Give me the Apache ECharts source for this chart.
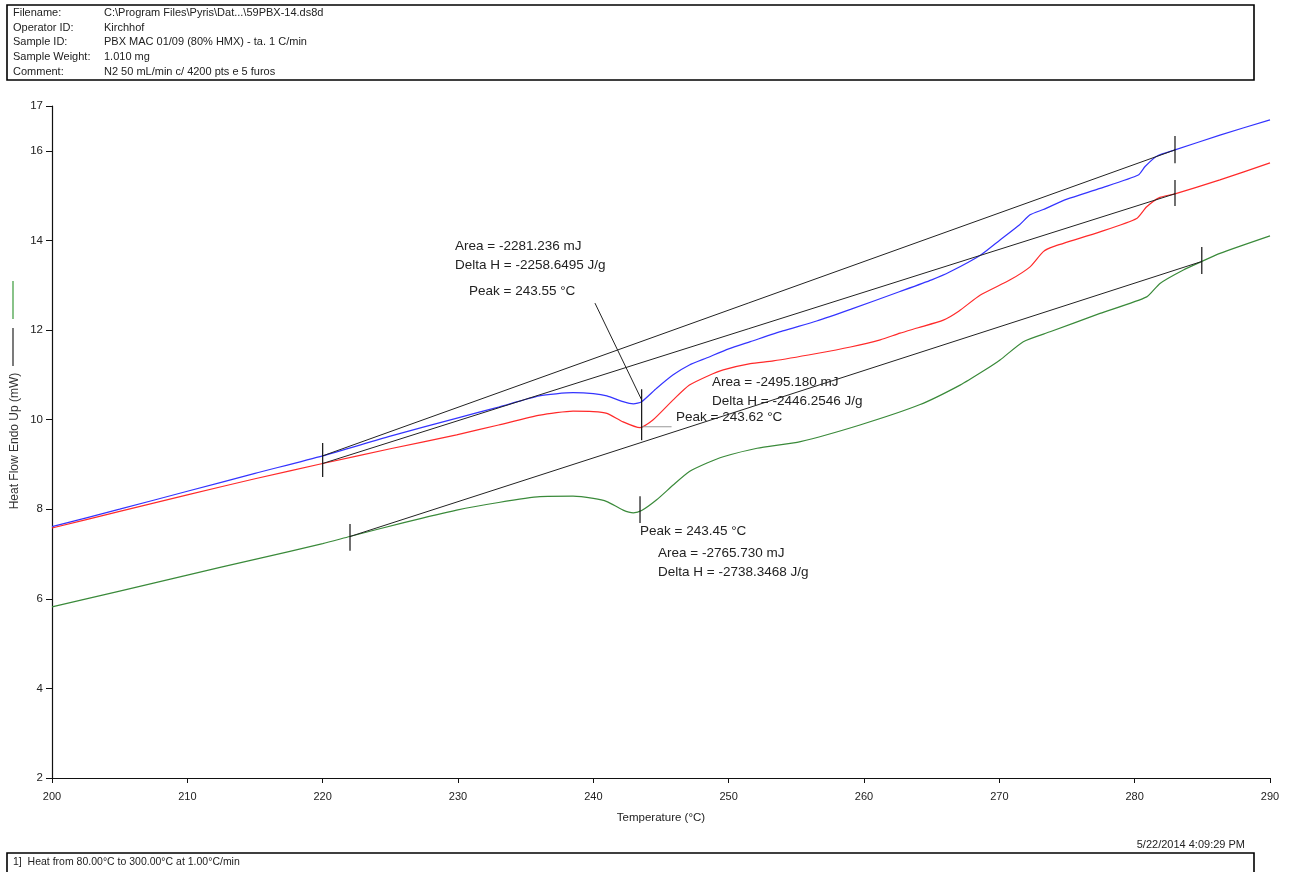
<!DOCTYPE html>
<html>
<head>
<meta charset="utf-8">
<script src="https://cdn.jsdelivr.net/npm/echarts@6/dist/echarts.min.js"></script>
<style>
html,body{margin:0;padding:0;background:#fff;}
#c{width:1293px;height:872px;}
</style>
</head>
<body>
<div id="c"></div>
<script>
// ---- data (Temperature °C, Heat Flow mW) ----
const blueT = [200,205,210,215,220,225,230,233,236,238.5,240,241,242.2,242.96,243.57,244.68,245.9,247.1,248.4,250,251.6,254,256.5,259,262.66,265,266.36,268.6,270.05,271.5,272.27,273.25,275,277.44,280.27,280.77,281.63,282.98,286.3,290];
const blueV = [7.61,8.00,8.40,8.80,9.19,9.63,10.04,10.28,10.53,10.60,10.58,10.53,10.40,10.35,10.40,10.70,11.00,11.22,11.38,11.58,11.74,11.98,12.20,12.46,12.86,13.12,13.30,13.67,14.01,14.35,14.57,14.69,14.92,15.16,15.46,15.65,15.88,16.02,16.35,16.69];

const redT = [200,205,210,215,220,225,229.9,233,236.06,238.5,240,241,242.2,243.45,244.4,245.9,247.1,248.5,249.6,251.6,253.3,256.4,259,261.2,262.66,264,265.86,267,268.6,270.8,272.27,273.25,273.99,277.44,280.15,280.89,281.87,282.98,286.3,290];
const redV = [7.58,7.95,8.32,8.68,9.02,9.35,9.66,9.88,10.10,10.19,10.18,10.14,9.95,9.82,9.99,10.44,10.77,10.98,11.11,11.25,11.31,11.47,11.62,11.78,11.93,12.05,12.22,12.42,12.78,13.12,13.41,13.75,13.86,14.19,14.49,14.75,14.96,15.04,15.35,15.73];

const greenT = [200,205,210,215,220,222,226,229.9,233,236.06,238.5,240,241,242.2,242.96,243.57,244.68,245.9,247.1,248.4,249.6,252.1,255.3,259.7,264.1,267.1,268.9,270.05,271.77,273.75,277.44,280.89,281.87,283.6,284.96,286.3,290];
const greenV = [5.82,6.17,6.53,6.88,7.23,7.39,7.70,7.98,8.15,8.28,8.29,8.24,8.17,7.98,7.92,7.97,8.21,8.54,8.84,9.03,9.17,9.36,9.51,9.88,10.33,10.77,11.10,11.33,11.74,11.96,12.37,12.74,13.04,13.34,13.53,13.71,14.10];

// baselines (integration limits)
const blueBase = [[220, 9.19], [282.98, 16.02]];
const redBase = [[220, 9.02], [282.98, 15.04]];
const greenBase = [[222.02, 7.39], [284.96, 13.53]];

// vertical limit / peak markers [T, vLow, vHigh]
const markers = [
  [220, 8.72, 9.48],
  [282.98, 15.72, 16.33],
  [282.98, 14.77, 15.35],
  [222.02, 7.07, 7.67],
  [284.96, 13.25, 13.85],
  [243.57, 9.54, 10.68],
  [243.45, 7.69, 8.29]
];
// peak pointer lines
const bluePointer = [[240.12, 12.60], [243.57, 10.44]];
const redPointer = [[243.57, 9.84], [245.78, 9.84]];

// axis ticks
const xTicks = [200,210,220,230,240,250,260,270,280,290];
const yTicks = [2,4,6,8,10,12,14,16,17];

// annotation texts
const annBlue = ['Area = -2281.236 mJ', 'Delta H = -2258.6495 J/g', 'Peak = 243.55 °C'];
const annRed = ['Area = -2495.180 mJ', 'Delta H = -2446.2546 J/g', 'Peak = 243.62 °C'];
const annGreen = ['Peak = 243.45 °C', 'Area = -2765.730 mJ', 'Delta H = -2738.3468 J/g'];

const headerLabels = ['Filename:', 'Operator ID:', 'Sample ID:', 'Sample Weight:', 'Comment:'];
const headerValues = ['C:\\Program Files\\Pyris\\Dat...\\59PBX-14.ds8d', 'Kirchhof', 'PBX MAC 01/09 (80% HMX) - ta. 1 C/min', '1.010 mg', 'N2 50 mL/min c/ 4200 pts e 5 furos'];
const footerText = '1]  Heat from 80.00°C to 300.00°C at 1.00°C/min';
const dateText = '5/22/2014 4:09:29 PM';

// ---- build ----
const zip = (a, b) => a.map((t, i) => [t, b[i]]);
const FONT = "'Liberation Sans', Arial, sans-serif";

const curve = (name, T, V, color) => ({
  name, type: 'line', data: zip(T, V), showSymbol: false, symbol: 'none',
  smooth: 0.2,
  lineStyle: { color, width: 1.2 }, silent: true, z: 3
});
const seg = (data, color, w) => ({
  type: 'line', data, showSymbol: false, symbol: 'none',
  lineStyle: { color, width: w || 1 }, silent: true, z: 4
});

const series = [
  curve('blue', blueT, blueV, '#3434ff'),
  curve('red', redT, redV, '#ff2a2a'),
  curve('green', greenT, greenV, '#3a8a3a'),
  seg(blueBase, '#222'),
  seg(redBase, '#222'),
  seg(greenBase, '#222'),
  seg(bluePointer, '#222'),
  seg(redPointer, '#999', 1.2)
];
markers.forEach(m => series.push(seg([[m[0], m[1]], [m[0], m[2]]], '#111', 1.2)));

const txt = (x, y, s, size, extra) => Object.assign({
  type: 'text', x, y,
  style: { text: s, font: (size || 13.5) + 'px ' + FONT, fill: '#222', textVerticalAlign: 'middle' },
  z: 10
}, extra || {});

const graphics = [];
// header box
graphics.push({ type: 'rect', shape: { x: 7, y: 5, width: 1247, height: 75 }, style: { fill: 'none', stroke: '#000', lineWidth: 1.6 } });
headerLabels.forEach((l, i) => {
  graphics.push(txt(13, 13 + i * 14.7, l, 11, null));
  graphics.push(txt(104, 13 + i * 14.7, headerValues[i], 11, null));
});
// footer
graphics.push({ type: 'rect', shape: { x: 7, y: 853, width: 1247, height: 40 }, style: { fill: 'none', stroke: '#000', lineWidth: 1.6 } });
graphics.push(txt(13, 862, footerText, 10.5, null));
graphics.push({ type: 'text', x: 1245, y: 845, style: { text: dateText, font: '11px ' + FONT, fill: '#222', textAlign: 'right', textVerticalAlign: 'middle' } });
// y-axis name + legend markers
graphics.push({ type: 'text', x: 15, y: 441, rotation: Math.PI / 2,
  style: { text: 'Heat Flow Endo Up (mW)', font: '12px ' + FONT, fill: '#333', textAlign: 'center', textVerticalAlign: 'middle' } });
graphics.push({ type: 'line', shape: { x1: 13, y1: 281, x2: 13, y2: 319 }, style: { stroke: '#3a9a3a', lineWidth: 1.2 } });
graphics.push({ type: 'line', shape: { x1: 13, y1: 328, x2: 13, y2: 366 }, style: { stroke: '#222', lineWidth: 1.2 } });
// annotations
graphics.push(txt(455, 246, annBlue[0]));
graphics.push(txt(455, 265, annBlue[1]));
graphics.push(txt(469, 291, annBlue[2]));
graphics.push(txt(712, 382, annRed[0]));
graphics.push(txt(712, 401, annRed[1]));
graphics.push(txt(676, 417, annRed[2]));
graphics.push(txt(640, 531, annGreen[0]));
graphics.push(txt(658, 553, annGreen[1]));
graphics.push(txt(658, 572, annGreen[2]));

const chart = echarts.init(document.getElementById('c'), null, { renderer: 'canvas' });
chart.setOption({
  animation: false,
  backgroundColor: '#fff',
  grid: { left: 52, right: 23, top: 106, bottom: 94, containLabel: false },
  xAxis: {
    type: 'value', min: 200, max: 290, interval: 10,
    name: 'Temperature (°C)', nameLocation: 'middle', nameGap: 34,
    nameTextStyle: { fontFamily: FONT, fontSize: 11.5, color: '#222' },
    axisLine: { show: true, onZero: false, lineStyle: { color: '#111', width: 1.2 } },
    axisTick: { show: true, length: 5, lineStyle: { color: '#111' }, customValues: xTicks },
    axisLabel: { fontFamily: FONT, fontSize: 11, color: '#222', margin: 13, customValues: xTicks },
    splitLine: { show: false }
  },
  yAxis: {
    type: 'value', min: 2, max: 17,
    axisLine: { show: true, onZero: false, lineStyle: { color: '#111', width: 1.2 } },
    axisTick: { show: true, length: 6, lineStyle: { color: '#111' }, customValues: yTicks },
    axisLabel: { fontFamily: FONT, fontSize: 11.5, color: '#222', margin: 9, customValues: yTicks },
    splitLine: { show: false }
  },
  series,
  graphic: graphics
});
</script>
</body>
</html>
